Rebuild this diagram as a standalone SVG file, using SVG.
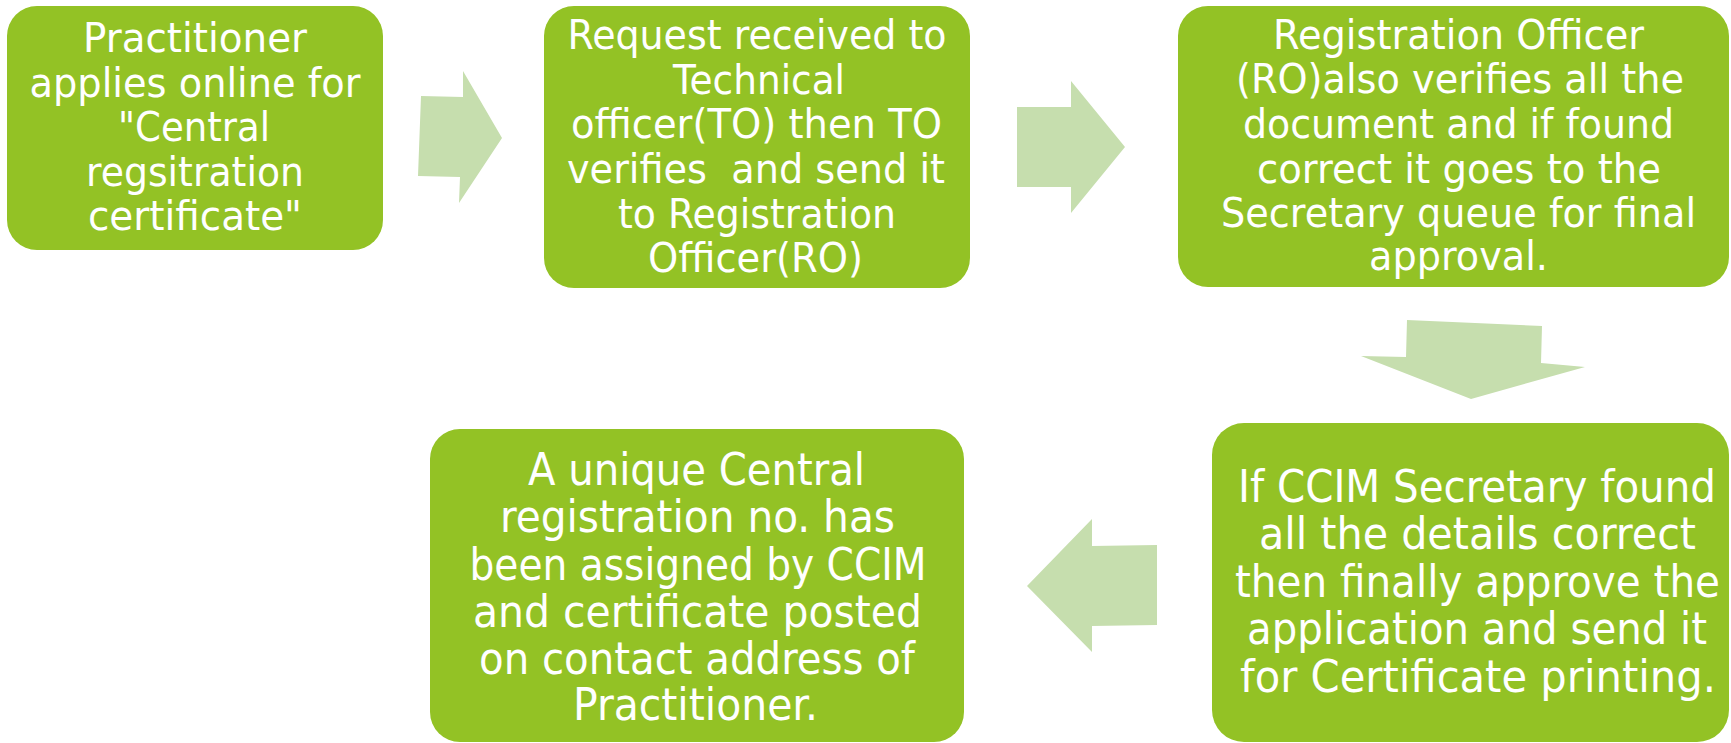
<svg xmlns="http://www.w3.org/2000/svg" width="1731" height="743" viewBox="0 0 1731 743">
<style>
.box{fill:#93C225;}
.arrow{fill:#C6DEAE;}
.t{font-family:"DejaVu Sans","Verdana",sans-serif;fill:#FFFFFF;text-anchor:middle;}
.c{font-family:"DejaVu Sans Condensed","DejaVu Sans",sans-serif;font-stretch:condensed;}
.s40{font-size:40px;}
.s44{font-size:44px;}
</style>
<rect width="1731" height="743" fill="#FFFFFF"/>
<g id="connectors">
<polygon class="arrow" points="421,96 463,97 463,71 502,138 459,203 460,177 418,176"/>
<polygon class="arrow" points="1017,107 1071,107 1071,81 1125,147 1071,213 1071,187 1017,187"/>
<polygon class="arrow" points="1407,320 1542,326 1541,363 1585,367 1471,399 1361,356 1406,357"/>
<polygon class="arrow" points="1027,586 1092,519 1092,546 1157,545 1157,625 1092,626 1092,652"/>
</g>
<g id="node1">
<rect class="box" x="7" y="6" width="376" height="244" rx="30" ry="30"/>
<text class="t s40" x="195" y="52" textLength="224" lengthAdjust="spacingAndGlyphs">Practitioner</text>
<text class="t s40" x="195" y="96.5" textLength="331" lengthAdjust="spacingAndGlyphs">applies online for</text>
<text class="t s40" x="194" y="141" textLength="152" lengthAdjust="spacingAndGlyphs">"Central</text>
<text class="t s40" x="195" y="185.5" textLength="218" lengthAdjust="spacingAndGlyphs">regsitration</text>
<text class="t s40" x="195" y="230" textLength="214" lengthAdjust="spacingAndGlyphs">certificate"</text>
</g>
<g id="node2">
<rect class="box" x="544" y="6" width="426" height="282" rx="30" ry="30"/>
<text class="t s40" x="757" y="49" textLength="379" lengthAdjust="spacingAndGlyphs">Request received to</text>
<text class="t s40" x="759" y="94" textLength="172" lengthAdjust="spacingAndGlyphs">Technical</text>
<text class="t s40" x="756.5" y="138" textLength="371" lengthAdjust="spacingAndGlyphs">officer(TO) then TO</text>
<text class="t s40" x="756" y="183" textLength="378" lengthAdjust="spacingAndGlyphs" xml:space="preserve">verifies  and send it</text>
<text class="t s40" x="757" y="228" textLength="278" lengthAdjust="spacingAndGlyphs">to Registration</text>
<text class="t s40" x="755.5" y="272" textLength="215" lengthAdjust="spacingAndGlyphs">Officer(RO)</text>
</g>
<g id="node3">
<rect class="box" x="1178" y="6" width="551" height="281" rx="30" ry="30"/>
<text class="t s40" x="1458.5" y="49" textLength="371" lengthAdjust="spacingAndGlyphs">Registration Officer</text>
<text class="t s40" x="1460" y="93" textLength="448" lengthAdjust="spacingAndGlyphs">(RO)also verifies all the</text>
<text class="t s40" x="1458.5" y="138" textLength="431" lengthAdjust="spacingAndGlyphs">document and if found</text>
<text class="t s40" x="1459" y="183" textLength="404" lengthAdjust="spacingAndGlyphs">correct it goes to the</text>
<text class="t s40" x="1458.5" y="227" textLength="475" lengthAdjust="spacingAndGlyphs">Secretary queue for final</text>
<text class="t s40" x="1458.5" y="270" textLength="179" lengthAdjust="spacingAndGlyphs">approval.</text>
</g>
<g id="node4">
<rect class="box" x="430" y="429" width="534" height="313" rx="30" ry="30"/>
<text class="t c s44" x="696.5" y="485" textLength="337" lengthAdjust="spacingAndGlyphs">A unique Central</text>
<text class="t c s44" x="697.5" y="532" textLength="395" lengthAdjust="spacingAndGlyphs">registration no. has</text>
<text class="t c s44" x="698" y="580" textLength="457" lengthAdjust="spacingAndGlyphs">been assigned by CCIM</text>
<text class="t c s44" x="697.5" y="627" textLength="449" lengthAdjust="spacingAndGlyphs">and certificate posted</text>
<text class="t c s44" x="697" y="674" textLength="436" lengthAdjust="spacingAndGlyphs">on contact address of</text>
<text class="t c s44" x="695.5" y="720" textLength="245" lengthAdjust="spacingAndGlyphs">Practitioner.</text>
</g>
<g id="node5">
<rect class="box" x="1212" y="423" width="517" height="319" rx="32" ry="32"/>
<text class="t c s44" x="1477" y="502" textLength="478" lengthAdjust="spacingAndGlyphs">If CCIM Secretary found</text>
<text class="t c s44" x="1477.5" y="549" textLength="437" lengthAdjust="spacingAndGlyphs">all the details correct</text>
<text class="t c s44" x="1477.5" y="597" textLength="485" lengthAdjust="spacingAndGlyphs">then finally approve the</text>
<text class="t c s44" x="1477" y="644" textLength="460" lengthAdjust="spacingAndGlyphs">application and send it</text>
<text class="t c s44" x="1478" y="692" textLength="476" lengthAdjust="spacingAndGlyphs">for Certificate printing.</text>
</g>
</svg>
